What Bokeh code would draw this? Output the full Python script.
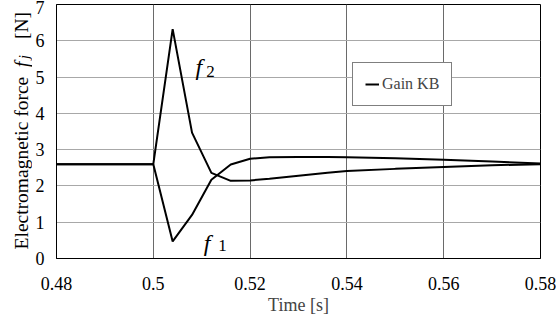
import math
from bokeh.plotting import figure
from bokeh.layouts import row
from bokeh.models import Range1d, FixedTicker, Label, Legend, LegendItem
from bokeh.core.properties import value
from bokeh.embed import file_html
from bokeh.resources import INLINE

# ---- data ----
time_s = [0.48, 0.50, 0.504, 0.508, 0.512, 0.516, 0.52, 0.524, 0.53, 0.536, 0.54, 0.55, 0.56, 0.57, 0.58]
f1_N = [2.60, 2.60, 0.47, 1.20, 2.17, 2.59, 2.75, 2.79, 2.80, 2.80, 2.79, 2.76, 2.72, 2.67, 2.62]
f2_N = [2.60, 2.60, 6.32, 3.47, 2.36, 2.14, 2.15, 2.20, 2.28, 2.36, 2.41, 2.47, 2.52, 2.57, 2.60]

x_ticks = [0.48, 0.50, 0.52, 0.54, 0.56, 0.58]
x_tick_labels = ["0.48", "0.5", "0.52", "0.54", "0.56", "0.58"]
y_ticks = [0, 1, 2, 3, 4, 5, 6, 7]

FONT = "Liberation Serif"
LABEL_W = 32
BORDER_TOP = 4
BORDER_BOTTOM = 64

p = figure(width=556 - LABEL_W, height=322, output_backend="svg", toolbar_location=None,
           x_range=Range1d(0.48, 0.58), y_range=Range1d(0, 7),
           min_border_left=55 - LABEL_W, min_border_right=16,
           min_border_top=BORDER_TOP, min_border_bottom=BORDER_BOTTOM)
p.background_fill_color = "white"
p.border_fill_color = "white"
p.outline_line_color = "black"
p.outline_line_width = 1

# axes
p.xaxis.ticker = FixedTicker(ticks=x_ticks)
p.xaxis.major_label_overrides = {t: s for t, s in zip(x_ticks, x_tick_labels)}
p.yaxis.ticker = FixedTicker(ticks=y_ticks)
for ax in (p.xaxis, p.yaxis):
    ax.axis_line_color = "black"
    ax.major_tick_out = 0
    ax.major_tick_in = 0
    ax.minor_tick_out = 0
    ax.minor_tick_in = 0
    ax.major_label_text_color = "black"
    ax.major_label_text_font = FONT
    ax.major_label_text_font_size = "18px"
p.xaxis.major_label_standoff = 18
p.yaxis.major_label_standoff = 12
p.xaxis.axis_label = "Time [s]"
p.xaxis.axis_label_text_font = FONT
p.xaxis.axis_label_text_font_style = "normal"
p.xaxis.axis_label_text_font_size = "18px"
p.xaxis.axis_label_standoff = 2

p.xgrid.grid_line_color = "#6a6a6a"
p.ygrid.grid_line_color = "#a8a8a8"
p.xgrid.grid_line_width = 1
p.ygrid.grid_line_width = 1

# lines
r1 = p.line(time_s, f1_N, line_color="black", line_width=2)
r2 = p.line(time_s, f2_N, line_color="black", line_width=2)

legend = Legend(items=[LegendItem(label="Gain KB", renderers=[r1])],
                location=(296, 152))
legend.label_text_font = FONT
legend.label_text_font_size = "16px"
legend.label_standoff = 3
legend.glyph_width = 14
legend.glyph_height = 18
legend.padding = 12
legend.margin = 0
legend.spacing = 0
legend.border_line_color = "black"
legend.border_line_width = 1
legend.background_fill_color = "white"
legend.background_fill_alpha = 1
p.add_layout(legend)

# curve labels
def add_label(x, y, text, size, style="normal"):
    p.add_layout(Label(x=x, y=y, text=text,
                       text_font=FONT, text_font_size=size, text_font_style=style,
                       text_color="black",
                       text_baseline="alphabetic", text_align="left"))

add_label(0.50870, 5.28, "f", "24px", "italic")
add_label(0.51095, 5.14, "2", "17px")
add_label(0.51040, 0.44, "f", "24px", "italic")
add_label(0.51340, 0.36, "1", "17px")

# y-axis title drawn in a narrow side panel that shares the main plot's vertical scale
side = figure(width=LABEL_W, height=322, output_backend="svg", toolbar_location=None,
              x_range=Range1d(0, LABEL_W), y_range=Range1d(0, 7),
              x_axis_type=None, y_axis_type=None,
              min_border_left=0, min_border_right=0,
              min_border_top=BORDER_TOP, min_border_bottom=BORDER_BOTTOM)
side.outline_line_color = None
side.grid.visible = False
side.background_fill_color = "white"
side.border_fill_color = "white"

ylab_text = ["Electromagnetic force", "f", "j", "[N]"]
ylab_x = [20.5, 21, 23.5, 20.5]
ylab_y = [0.25, 5.27, 5.50, 6.05]
ylab_size = ["19.5px", "20px", "14px", "19.5px"]
ylab_style = ["normal", "italic", "italic", "normal"]
for t, xx, yy, sz, st in zip(ylab_text, ylab_x, ylab_y, ylab_size, ylab_style):
    side.text(x=[xx], y=[yy], text=[t], angle=math.pi / 2,
              text_font=value(FONT), text_font_size=value(sz), text_font_style=st,
              text_color="black", text_align="left", text_baseline="alphabetic")

layout = row(side, p, spacing=0)
open("out.html", "w").write(file_html(layout, INLINE))
